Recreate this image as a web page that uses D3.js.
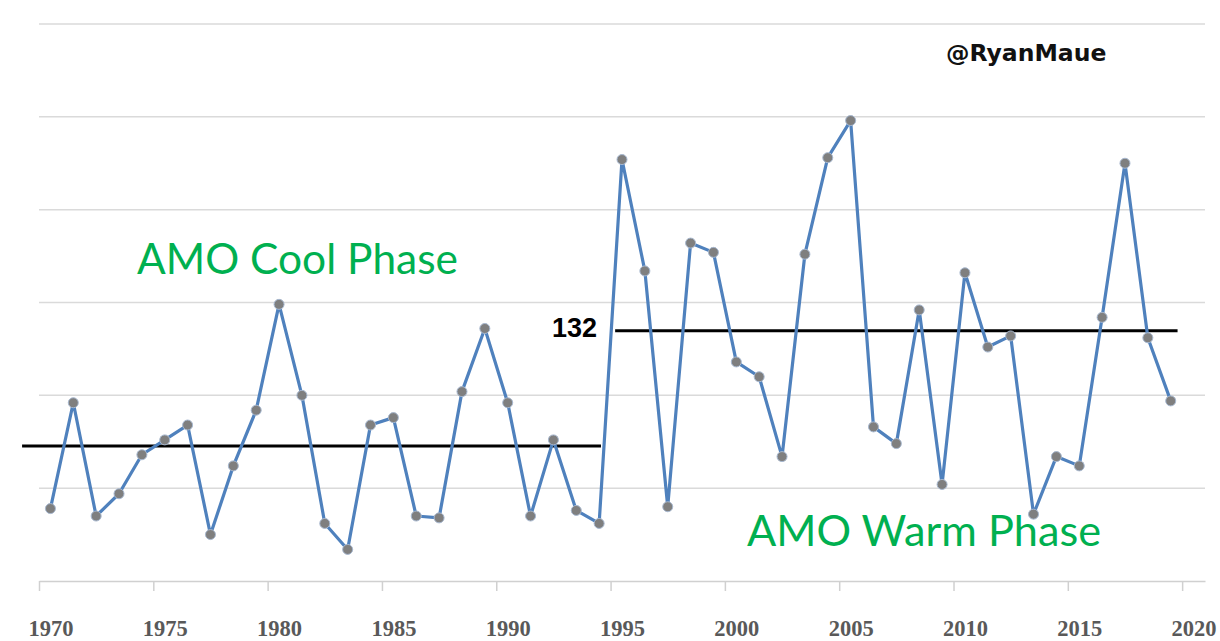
<!DOCTYPE html>
<html>
<head>
<meta charset="utf-8">
<script src="https://cdn.jsdelivr.net/npm/d3@7"></script>
<style>
  html, body { margin: 0; padding: 0; background: #fff; }
  svg { display: block; }
</style>
</head>
<body>
<div id="chart"></div>
<script>
// Atlantic ACE by year
const years = d3.range(1970, 2020);
const ace = [
  39, 96, 35, 47, 68, 76, 84, 25, 62, 92,
  149, 100, 31, 17, 84, 88, 35, 34, 102, 136,
  96, 35, 76, 38, 31, 227, 167, 40, 182, 177,
  118, 110, 67, 176, 228, 248, 83, 74, 146, 52,
  166, 126, 132, 36, 67, 62, 142, 225, 131, 97
];

// phase averages (start, end, level) and their labels
const phaseStart = [1969.26, 1995.2];
const phaseEnd = [1994.58, 2019.8];
const phaseLevel = [72.7, 134.8];
const phaseLabel = ["", "132"];

const xTicks = d3.range(1970, 2021, 5);
const yGrid = [50, 100, 150, 200, 250, 300];

const W = 1220, H = 641;

const svg = d3.select("#chart")
  .append("svg")
  .attr("width", W)
  .attr("height", H);

svg.append("rect").attr("width", W).attr("height", H).attr("fill", "#fff");

const x = d3.scaleLinear().domain([1970, 2021]).range([39, 1205]);
const y = d3.scaleLinear().domain([0, 300]).range([581, 24]);
const half = x(1970.5) - x(1970);

// gridlines
svg.append("g")
  .selectAll("line")
  .data(yGrid)
  .enter()
  .append("line")
  .attr("x1", x(1970))
  .attr("x2", x(2021))
  .attr("y1", d => y(d))
  .attr("y2", d => y(d))
  .attr("stroke", "#dadada")
  .attr("stroke-width", 1.5);

// x axis (labels sit between ticks, like a category axis)
const xAxis = d3.axisBottom(x)
  .tickValues(xTicks)
  .tickFormat(d3.format("d"))
  .tickSize(10)
  .tickSizeOuter(0);

const gx = svg.append("g")
  .attr("transform", `translate(0,${y(0)})`)
  .call(xAxis);

gx.select(".domain").attr("stroke", "#d0d0d0").attr("stroke-width", 1.5);
gx.selectAll(".tick line").attr("stroke", "#d0d0d0").attr("stroke-width", 1.5);
gx.selectAll(".tick text")
  .attr("x", half)
  .attr("y", 55)
  .attr("dy", 0)
  .attr("fill", "#595959")
  .style("font-family", "'Liberation Serif', 'Times New Roman', serif")
  .style("font-weight", "bold")
  .style("font-size", "22.5px");

// phase mean lines
const phases = phaseLevel.map((v, i) => ({ s: phaseStart[i], e: phaseEnd[i], v, label: phaseLabel[i] }));

svg.append("g")
  .selectAll("line")
  .data(phases)
  .enter()
  .append("line")
  .attr("x1", d => x(d.s))
  .attr("x2", d => x(d.e))
  .attr("y1", d => y(d.v))
  .attr("y2", d => y(d.v))
  .attr("stroke", "#000")
  .attr("stroke-width", 3);

svg.append("g")
  .selectAll("text")
  .data(phases.filter(d => d.label))
  .enter()
  .append("text")
  .attr("x", d => x(d.s) - 18)
  .attr("y", d => y(d.v) + 6)
  .attr("text-anchor", "end")
  .style("font-family", "'Liberation Sans', Arial, sans-serif")
  .style("font-weight", "bold")
  .style("font-size", "27px")
  .attr("fill", "#000")
  .text(d => d.label);

// ACE series
const pts = years.map((yr, i) => ({ yr, v: ace[i] }));

const line = d3.line()
  .x(d => x(d.yr + 0.5))
  .y(d => y(d.v));

svg.append("path")
  .datum(pts)
  .attr("fill", "none")
  .attr("stroke", "#4f81bd")
  .attr("stroke-width", 3.2)
  .attr("stroke-linejoin", "round")
  .attr("d", line);

svg.append("g")
  .selectAll("circle")
  .data(pts)
  .enter()
  .append("circle")
  .attr("cx", d => x(d.yr + 0.5))
  .attr("cy", d => y(d.v))
  .attr("r", 5)
  .attr("fill", "#7f7f7f")
  .attr("stroke", "#a7b8d0")
  .attr("stroke-width", 1);

// annotations
const green = "#00b050";
svg.append("text")
  .attr("x", 137)
  .attr("y", 274)
  .attr("fill", green)
  .attr("textLength", 321)
  .attr("lengthAdjust", "spacingAndGlyphs")
  .style("font-family", "Lato, 'Open Sans', sans-serif")
  .style("font-size", "43px")
  .text("AMO Cool Phase");

svg.append("text")
  .attr("x", 747)
  .attr("y", 546)
  .attr("fill", green)
  .attr("textLength", 354)
  .attr("lengthAdjust", "spacingAndGlyphs")
  .style("font-family", "Lato, 'Open Sans', sans-serif")
  .style("font-size", "42px")
  .text("AMO Warm Phase");

svg.append("text")
  .attr("x", 946)
  .attr("y", 61)
  .attr("fill", "#111")
  .style("font-family", "'DejaVu Sans', Verdana, sans-serif")
  .style("font-weight", "bold")
  .style("font-size", "23.5px")
  .text("@RyanMaue");
</script>
</body>
</html>
